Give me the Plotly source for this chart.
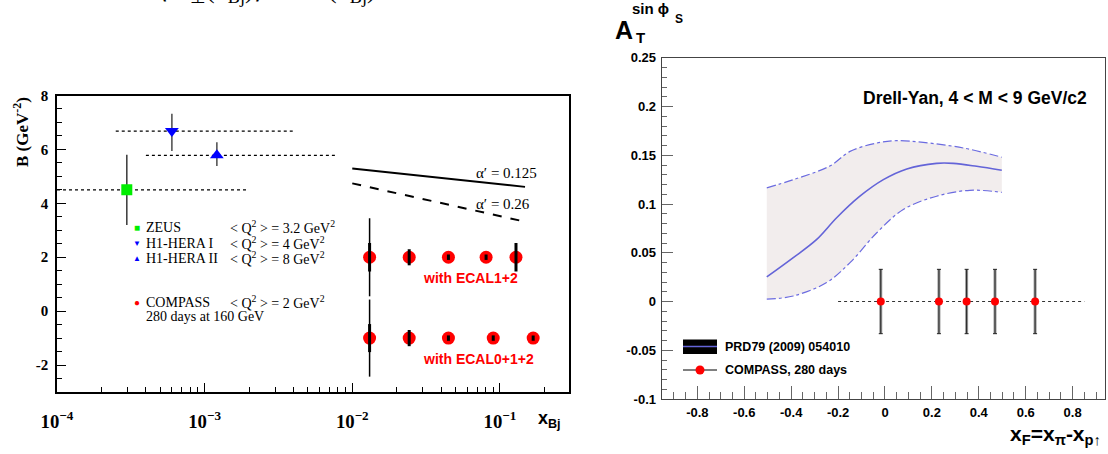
import plotly.graph_objects as go

W, H = 1108, 454

# ---------------- Left panel data: B(x_Bj) ----------------
zeus_x = [2.97e-4]
zeus_B = [4.5]
zeus_err = [1.3]
zeus_xrange = [1.0e-4, 1.95e-3]

h1a_x = [6.0e-4]
h1a_B = [6.68]
h1a_err_up = [0.64]
h1a_err_dn = [0.74]
h1a_xrange = [2.5e-4, 3.95e-3]

h1b_x = [1.21e-3]
h1b_B = [5.78]
h1b_err_up = [0.49]
h1b_err_dn = [0.40]
h1b_xrange = [4.0e-4, 7.8e-3]

ecal12_x = [0.0131, 0.0243, 0.0448, 0.0806, 0.1285]
ecal12_B = [2.0, 2.0, 2.0, 2.0, 2.0]
ecal12_stat = [0.53, 0.30, 0.10, 0.10, 0.53]
ecal12_sys = [1.45, 0.0, 0.0, 0.0, 0.0]

ecal012_x = [0.0131, 0.0243, 0.0448, 0.0901, 0.168]
ecal012_B = [-1.0, -1.0, -1.0, -1.0, -1.0]
ecal012_stat = [0.52, 0.30, 0.10, 0.10, 0.10]
ecal012_sys = [1.43, 0.0, 0.0, 0.0, 0.0]

alpha_x = [0.0100, 0.148]
alpha125_B = [5.29, 4.61]
alpha026_B = [4.74, 3.32]

left_yticks = [-2, 0, 2, 4, 6, 8]
left_yticklabels = ["-2", "0", "2", "4", "6", "8"]

# ---------------- Right panel data: A_T^{sin phi_s} ----------------
theory_x = [-0.504, -0.391, -0.291, -0.206, -0.107, -0.007, 0.093, 0.220, 0.291, 0.391, 0.498]
theory_y = [0.0252, 0.045, 0.0637, 0.0859, 0.108, 0.125, 0.136, 0.1417, 0.1417, 0.1387, 0.1346]
upper_x = [-0.504, -0.391, -0.235, -0.149, -0.035, 0.050, 0.163, 0.334, 0.498]
upper_y = [0.1166, 0.125, 0.1390, 0.154, 0.1626, 0.165, 0.1632, 0.1575, 0.148]
lower_x = [-0.504, -0.391, -0.249, -0.149, -0.035, 0.078, 0.220, 0.362, 0.498]
lower_y = [0.0024, 0.0057, 0.0194, 0.0399, 0.0705, 0.0944, 0.108, 0.1141, 0.112]

compass_xF = [-0.018, 0.230, 0.348, 0.469, 0.640]
compass_A = [0.0, 0.0, 0.0, 0.0, 0.0]
compass_err = [0.033, 0.033, 0.033, 0.033, 0.033]
zero_line_x = [-0.2, 0.85]
zero_line_y = [0.0, 0.0]

xF_ticks = [-0.8, -0.6, -0.4, -0.2, 0, 0.2, 0.4, 0.6, 0.8]
xF_labels = ["-0.8", "-0.6", "-0.4", "-0.2", "0", "0.2", "0.4", "0.6", "0.8"]
A_ticks = [-0.1, -0.05, 0, 0.05, 0.1, 0.15, 0.2, 0.25]
A_labels = ["-0.1", "-0.05", "0", "0.05", "0.1", "0.15", "0.2", "0.25"]

SERIF = "Liberation Serif"
SANS = "Liberation Sans"


def px(x):
    return x / W


def py(y):
    return 1 - y / H


fig = go.Figure()

# ---- left: x-range dotted lines ----
for xr, yv in [(zeus_xrange, zeus_B), (h1a_xrange, h1a_B), (h1b_xrange, h1b_B)]:
    fig.add_trace(go.Scatter(x=xr, y=[yv[0], yv[0]], mode="lines",
                             line=dict(color="black", width=1.3, dash="dot"),
                             xaxis="x", yaxis="y", showlegend=False, hoverinfo="skip"))

# ---- left: HERA points ----
fig.add_trace(go.Scatter(x=zeus_x, y=zeus_B, mode="markers",
                         error_y=dict(type="data", array=zeus_err, color="#444", thickness=1.6, width=0),
                         marker=dict(symbol="square", size=11, color="#00ee00"),
                         xaxis="x", yaxis="y", showlegend=False))
fig.add_trace(go.Scatter(x=h1a_x, y=h1a_B, mode="markers",
                         error_y=dict(type="data", symmetric=False, array=h1a_err_up, arrayminus=h1a_err_dn,
                                      color="#555", thickness=1.6, width=0),
                         marker=dict(symbol="triangle-down", size=12, color="#0000ff"),
                         xaxis="x", yaxis="y", showlegend=False))
fig.add_trace(go.Scatter(x=h1b_x, y=h1b_B, mode="markers",
                         error_y=dict(type="data", symmetric=False, array=h1b_err_up, arrayminus=h1b_err_dn,
                                      color="#555", thickness=1.6, width=0),
                         marker=dict(symbol="triangle-up", size=12, color="#0000ff"),
                         xaxis="x", yaxis="y", showlegend=False))

# ---- left: alpha' lines ----
fig.add_trace(go.Scatter(x=alpha_x, y=alpha125_B, mode="lines", line=dict(color="black", width=2),
                         xaxis="x", yaxis="y", showlegend=False, hoverinfo="skip"))
fig.add_trace(go.Scatter(x=alpha_x, y=alpha026_B, mode="lines", line=dict(color="black", width=2, dash="dash"),
                         xaxis="x", yaxis="y", showlegend=False, hoverinfo="skip"))

# ---- left: COMPASS projections ----
for xs, ys, stat, sys in [(ecal12_x, ecal12_B, ecal12_stat, ecal12_sys),
                          (ecal012_x, ecal012_B, ecal012_stat, ecal012_sys)]:
    fig.add_trace(go.Scatter(x=xs, y=ys, mode="markers",
                             marker=dict(symbol="circle", size=13, color="#ff0000"),
                             xaxis="x", yaxis="y", showlegend=False))
    fig.add_trace(go.Scatter(x=xs, y=ys, mode="markers",
                             marker=dict(size=1, color="rgba(0,0,0,0)"),
                             error_y=dict(type="data", array=sys, color="black", thickness=1.5, width=0),
                             xaxis="x", yaxis="y", showlegend=False, hoverinfo="skip"))
    fig.add_trace(go.Scatter(x=xs, y=ys, mode="markers",
                             marker=dict(size=1, color="rgba(0,0,0,0)"),
                             error_y=dict(type="data", array=stat, color="black", thickness=3, width=0),
                             xaxis="x", yaxis="y", showlegend=False, hoverinfo="skip"))

# ---- right: theory band ----
fig.add_trace(go.Scatter(x=lower_x, y=lower_y, mode="lines",
                         line=dict(color="#6b6be0", width=1.2, dash="dashdot", shape="spline"),
                         xaxis="x2", yaxis="y2", showlegend=False, hoverinfo="skip"))
fig.add_trace(go.Scatter(x=upper_x, y=upper_y, mode="lines", fill="tonexty", fillcolor="#f2eded",
                         line=dict(color="#6b6be0", width=1.2, dash="dashdot", shape="spline"),
                         xaxis="x2", yaxis="y2", showlegend=False, hoverinfo="skip"))
fig.add_trace(go.Scatter(x=theory_x, y=theory_y, mode="lines",
                         line=dict(color="#6464d8", width=1.6, shape="spline"),
                         xaxis="x2", yaxis="y2", showlegend=False))

# ---- right: COMPASS points ----
fig.add_trace(go.Scatter(x=zero_line_x, y=zero_line_y, mode="lines",
                         line=dict(color="#333", width=1, dash="dot"),
                         xaxis="x2", yaxis="y2", showlegend=False, hoverinfo="skip"))
fig.add_trace(go.Scatter(x=compass_xF, y=compass_A, mode="markers",
                         error_y=dict(type="data", array=compass_err, color="#999", thickness=3, width=0),
                         marker=dict(symbol="circle", size=1, color="rgba(0,0,0,0)"),
                         xaxis="x2", yaxis="y2", showlegend=False, hoverinfo="skip"))
fig.add_trace(go.Scatter(x=compass_xF, y=compass_A, mode="markers",
                         error_y=dict(type="data", array=compass_err, color="#222", thickness=1, width=2),
                         marker=dict(symbol="circle", size=8, color="#ff0000"),
                         xaxis="x2", yaxis="y2", showlegend=False))

# ---------------- annotations ----------------
ann = []


def A(text, x, y, size, family, color="black", xanchor="left", yanchor="middle", angle=0):
    ann.append(dict(text=text, x=px(x), y=py(y), xref="paper", yref="paper", showarrow=False,
                    xanchor=xanchor, yanchor=yanchor, textangle=angle,
                    font=dict(size=size, family=family, color=color)))


# clipped formula at the very top
A("⟨b<sup>2</sup><sub>⊥</sub>(x<sub>Bj</sub>)⟩ = 2 B(x<sub>Bj</sub>)", 156, 9, 26, SERIF, yanchor="bottom")

# left y title
A("<b>B (GeV<sup>-2</sup>)</b>", 21, 132, 17, SERIF, xanchor="center", yanchor="middle", angle=-90)
# left x title
A("<b>x<sub>Bj</sub></b>", 536, 419, 18, SANS, xanchor="left")

# left legend
A("■", 137, 227, 10, SANS, color="#00ee00", xanchor="center")
A("▼", 137, 243, 8, SANS, color="#0000ff", xanchor="center")
A("▲", 137, 258, 8, SANS, color="#0000ff", xanchor="center")
A("●", 137, 302, 10, SANS, color="#ff0000", xanchor="center")
A("ZEUS", 144, 227, 14, SERIF)
A("H1-HERA I", 144, 243, 14, SERIF)
A("H1-HERA II", 144, 258, 14, SERIF)
A("COMPASS", 144, 302, 14, SERIF)
A("280 days at 160 GeV", 144, 316, 14, SERIF)
A("&lt; Q<sup>2</sup> &gt; = 3.2 GeV<sup>2</sup>", 228, 227, 14, SERIF)
A("&lt; Q<sup>2</sup> &gt; = 4 GeV<sup>2</sup>", 228, 243, 14, SERIF)
A("&lt; Q<sup>2</sup> &gt; = 8 GeV<sup>2</sup>", 228, 258, 14, SERIF)
A("&lt; Q<sup>2</sup> &gt; = 2 GeV<sup>2</sup>", 228, 302, 14, SERIF)

A("α′ = 0.125", 474, 173, 15, SERIF)
A("α′ = 0.26", 474, 204, 15, SERIF)
A("<b>with ECAL1+2</b>", 421, 278, 14, SANS, color="#ff0000")
A("<b>with ECAL0+1+2</b>", 421, 359, 14, SANS, color="#ff0000")

# right titles
A("<b>A</b>", 613, 30, 25, SANS, xanchor="left")
A("<b>T</b>", 634, 38, 15, SANS, xanchor="left")
A("<b>sin ϕ</b>", 630, 8, 15, SANS, xanchor="left")
A("<b>S</b>", 673, 19, 12, SANS, xanchor="left")
A("<b>Drell-Yan, 4 &lt; M &lt; 9 GeV/c2</b>", 1089, 98, 17.5, SANS, xanchor="right")
A("<b>x<sub>F</sub>=x<sub>π</sub>-x<sub>p↑</sub></b>", 1103, 435, 21, SANS, xanchor="right")

# right legend
A("<b>PRD79 (2009) 054010</b>", 723, 347, 12.5, SANS)
A("<b>COMPASS, 280 days</b>", 723, 370, 12.5, SANS)

shapes = [
    dict(type="rect", xref="paper", yref="paper", x0=px(683), x1=px(717), y0=py(354), y1=py(339.5),
         fillcolor="black", line=dict(width=0)),
    dict(type="line", xref="paper", yref="paper", x0=px(683), x1=px(717), y0=py(346.5), y1=py(346.5),
         line=dict(color="#6464d8", width=1.5)),
    dict(type="line", xref="paper", yref="paper", x0=px(683), x1=px(717), y0=py(370), y1=py(370),
         line=dict(color="black", width=1)),
    dict(type="circle", xref="paper", yref="paper", x0=px(695.5), x1=px(704.5), y0=py(374.5), y1=py(365.5),
         fillcolor="#ff0000", line=dict(width=0)),
]

fig.update_layout(
    template="none",
    width=W, height=H,
    margin=dict(l=0, r=0, t=0, b=0, pad=0, autoexpand=False),
    paper_bgcolor="white", plot_bgcolor="white",
    showlegend=False,
    annotations=ann,
    shapes=shapes,
    xaxis=dict(type="log", range=[-4, -0.53], domain=[px(57), px(569.3)], anchor="y", automargin=False,
               showline=True, mirror=True, linecolor="black", linewidth=1.5,
               ticks="inside", ticklen=9, tickcolor="black", dtick=1, exponentformat="power",
               tickfont=dict(family=SERIF, size=15, color="black", weight="bold"),
               ticklabelstandoff=12, showgrid=False, zeroline=False,
               minor=dict(ticks="inside", ticklen=5, dtick="D1", tickcolor="black", showgrid=False)),
    yaxis=dict(range=[-3, 8], domain=[py(392), py(95.5)], anchor="x", automargin=False,
               showline=True, mirror=True, linecolor="black", linewidth=1.5,
               ticks="inside", ticklen=9, tickcolor="black",
               tickvals=left_yticks, ticktext=left_yticklabels,
               tickfont=dict(family=SERIF, size=15, color="black", weight="bold"),
               ticklabelstandoff=4, showgrid=False, zeroline=False,
               minor=dict(ticks="inside", ticklen=5, dtick=0.5, tick0=0, tickcolor="black", showgrid=False)),
    xaxis2=dict(range=[-0.952, 0.938], domain=[px(661.7), px(1105)], anchor="y2", automargin=False,
                showline=True, mirror=True, linecolor="#444", linewidth=1.2,
                ticks="inside", ticklen=13, tickcolor="#666",
                tickvals=xF_ticks, ticktext=xF_labels,
                tickfont=dict(family=SANS, size=13, color="black", weight="bold"),
                ticklabelstandoff=1, showgrid=False, zeroline=False,
                minor=dict(ticks="inside", ticklen=7, dtick=0.05, tick0=0, tickcolor="#666", showgrid=False)),
    yaxis2=dict(range=[-0.1, 0.25], domain=[py(399), py(57.8)], anchor="x2", automargin=False,
                showline=True, mirror=True, linecolor="#444", linewidth=1.2,
                ticks="inside", ticklen=11, tickcolor="#666",
                tickvals=A_ticks, ticktext=A_labels,
                tickfont=dict(family=SANS, size=13, color="black", weight="bold"),
                ticklabelstandoff=2, showgrid=False, zeroline=False,
                minor=dict(ticks="inside", ticklen=5, dtick=0.01, tick0=0, tickcolor="#666", showgrid=False)),
)

fig.write_html("out.html",
               config={"displayModeBar": False},
               post_script="document.body.style.margin='0';document.body.style.overflow='hidden';")
